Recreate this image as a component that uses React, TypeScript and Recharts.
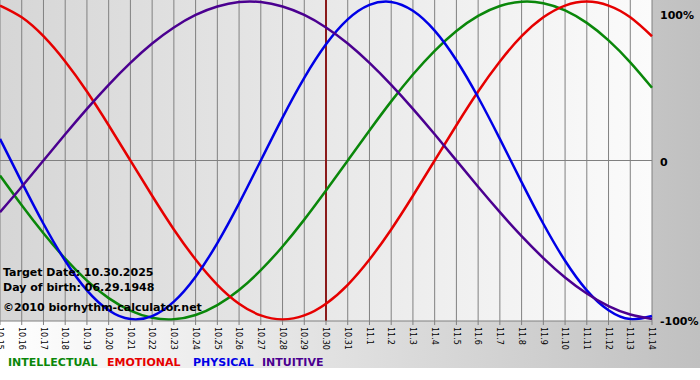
import React from "react";
import { LineChart, Line, XAxis, YAxis, CartesianGrid, ReferenceLine } from "recharts";

const days = [
  "10.15", "10.16", "10.17", "10.18", "10.19", "10.20", "10.21", "10.22", "10.23", "10.24",
  "10.25", "10.26", "10.27", "10.28", "10.29", "10.30", "10.31", "11.1", "11.2", "11.3",
  "11.4", "11.5", "11.6", "11.7", "11.8", "11.9", "11.10", "11.11", "11.12", "11.13", "11.14",
];

const intellectual = [
  -0.095, -0.282, -0.458, -0.618, -0.756, -0.866, -0.945, -0.99, -0.999, -0.972,
  -0.91, -0.815, -0.69, -0.541, -0.372, -0.189, 0, 0.189, 0.372, 0.541,
  0.69, 0.815, 0.91, 0.972, 0.999, 0.99, 0.945, 0.866, 0.756, 0.618, 0.458,
];

const emotional = [
  0.975, 0.901, 0.782, 0.623, 0.434, 0.222, 0, -0.222, -0.434, -0.623,
  -0.782, -0.901, -0.975, -1, -0.975, -0.901, -0.782, -0.623, -0.434, -0.222,
  0, 0.222, 0.434, 0.623, 0.782, 0.901, 0.975, 1, 0.975, 0.901, 0.782,
];

const physical = [
  0.136, -0.136, -0.398, -0.631, -0.817, -0.942, -0.998, -0.979, -0.888, -0.731,
  -0.52, -0.27, 0, 0.27, 0.52, 0.731, 0.888, 0.979, 0.998, 0.942,
  0.817, 0.631, 0.398, 0.136, -0.136, -0.398, -0.631, -0.817, -0.942, -0.998, -0.979,
];

const intuitive = [
  -0.325, -0.165, 0, 0.165, 0.325, 0.476, 0.614, 0.736, 0.837, 0.916,
  0.969, 0.997, 0.997, 0.969, 0.916, 0.837, 0.736, 0.614, 0.476, 0.325,
  0.165, 0, -0.165, -0.325, -0.476, -0.614, -0.736, -0.837, -0.916, -0.969, -0.997,
];

const yTicks = [-1, 0, 1];
const yTickLabels = ["-100%", "0", "100%"];
const targetDay = "10.30";

const series = [
  { key: "intellectual", name: "INTELLECTUAL", color: "#0a870a", left: 8 },
  { key: "emotional", name: "EMOTIONAL", color: "#e60000", left: 107 },
  { key: "physical", name: "PHYSICAL", color: "#0000e6", left: 193 },
  { key: "intuitive", name: "INTUITIVE", color: "#4b0090", left: 262 },
];

const data = days.map((day, i) => ({
  day,
  intellectual: intellectual[i],
  emotional: emotional[i],
  physical: physical[i],
  intuitive: intuitive[i],
}));

const FONT = "'DejaVu Sans', Verdana, sans-serif";

const XTick = (props: any) => {
  const { x, y, payload } = props;
  return (
    <text
      x={x}
      y={y}
      transform={`rotate(90 ${x} ${y})`}
      dy="0.35em"
      textAnchor="start"
      fontSize={8}
      fontFamily={FONT}
      fill="#000"
    >
      {payload.value}
    </text>
  );
};

const YTick = (props: any) => {
  const { x, y, payload } = props;
  const idx = yTicks.indexOf(payload.value);
  const label = idx >= 0 ? yTickLabels[idx] : String(payload.value);
  const dy = payload.value === 1 ? 6 : 2;
  return (
    <text
      x={x}
      y={y + dy}
      dy="0.355em"
      textAnchor="start"
      fontSize={11}
      fontWeight="bold"
      fontFamily={FONT}
      fill="#000"
    >
      {label}
    </text>
  );
};

const infoStyle: React.CSSProperties = {
  position: "absolute",
  left: 3,
  fontFamily: FONT,
  fontSize: 11,
  fontWeight: "bold",
  lineHeight: "11px",
  color: "#000",
  whiteSpace: "nowrap",
};

export default function App() {
  return (
    <div
      style={{
        position: "absolute",
        left: 0,
        top: 0,
        width: 700,
        height: 380,
        background: "#ffffff",
        overflow: "hidden",
      }}
    >
      <div
        style={{
          position: "absolute",
          left: 0,
          top: 0,
          width: 700,
          height: 368,
          background: "linear-gradient(to right, #ffffff, #c0c0c0)",
        }}
      />
      <div style={{ position: "absolute", left: 0, top: 0 }}>
        <LineChart width={700} height={380} data={data} margin={{ top: 0, right: 0, left: 0, bottom: 0 }}>
          <defs>
            <linearGradient id="plotBg" x1="0" y1="0" x2="1" y2="0">
              <stop offset="0%" stopColor="#d6d6d6" />
              <stop offset="100%" stopColor="#fbfbfb" />
            </linearGradient>
          </defs>
          <CartesianGrid horizontal={false} vertical stroke="#808080" fill="url(#plotBg)" />
          <XAxis
            dataKey="day"
            interval={0}
            height={59}
            tick={<XTick />}
            tickSize={4}
            tickMargin={2}
            axisLine={{ stroke: "#808080" }}
            tickLine={{ stroke: "#808080" }}
          />
          <YAxis
            orientation="right"
            width={48}
            domain={[-1.01, 1.01]}
            ticks={yTicks}
            tick={<YTick />}
            tickSize={6}
            tickMargin={2}
            axisLine={false}
            tickLine={false}
          />
          <ReferenceLine y={0} stroke="#808080" />
          <ReferenceLine x={targetDay} stroke="#8b1a1a" strokeWidth={2} />
          {series.map((s) => (
            <Line
              key={s.key}
              dataKey={s.key}
              name={s.name}
              type="natural"
              stroke={s.color}
              strokeWidth={2.5}
              dot={false}
              activeDot={false}
              isAnimationActive={false}
            />
          ))}
        </LineChart>
      </div>
      <div style={{ ...infoStyle, top: 267 }}>Target Date: 10.30.2025</div>
      <div style={{ ...infoStyle, top: 282 }}>Day of birth: 06.29.1948</div>
      <div style={{ ...infoStyle, top: 302 }}>©2010 biorhythm-calculator.net</div>
      {series.map((s) => (
        <div
          key={s.key}
          style={{
            position: "absolute",
            left: s.left,
            top: 357,
            fontFamily: FONT,
            fontSize: 11,
            fontWeight: "bold",
            lineHeight: "11px",
            color: s.color,
            whiteSpace: "nowrap",
          }}
        >
          {s.name}
        </div>
      ))}
    </div>
  );
}
